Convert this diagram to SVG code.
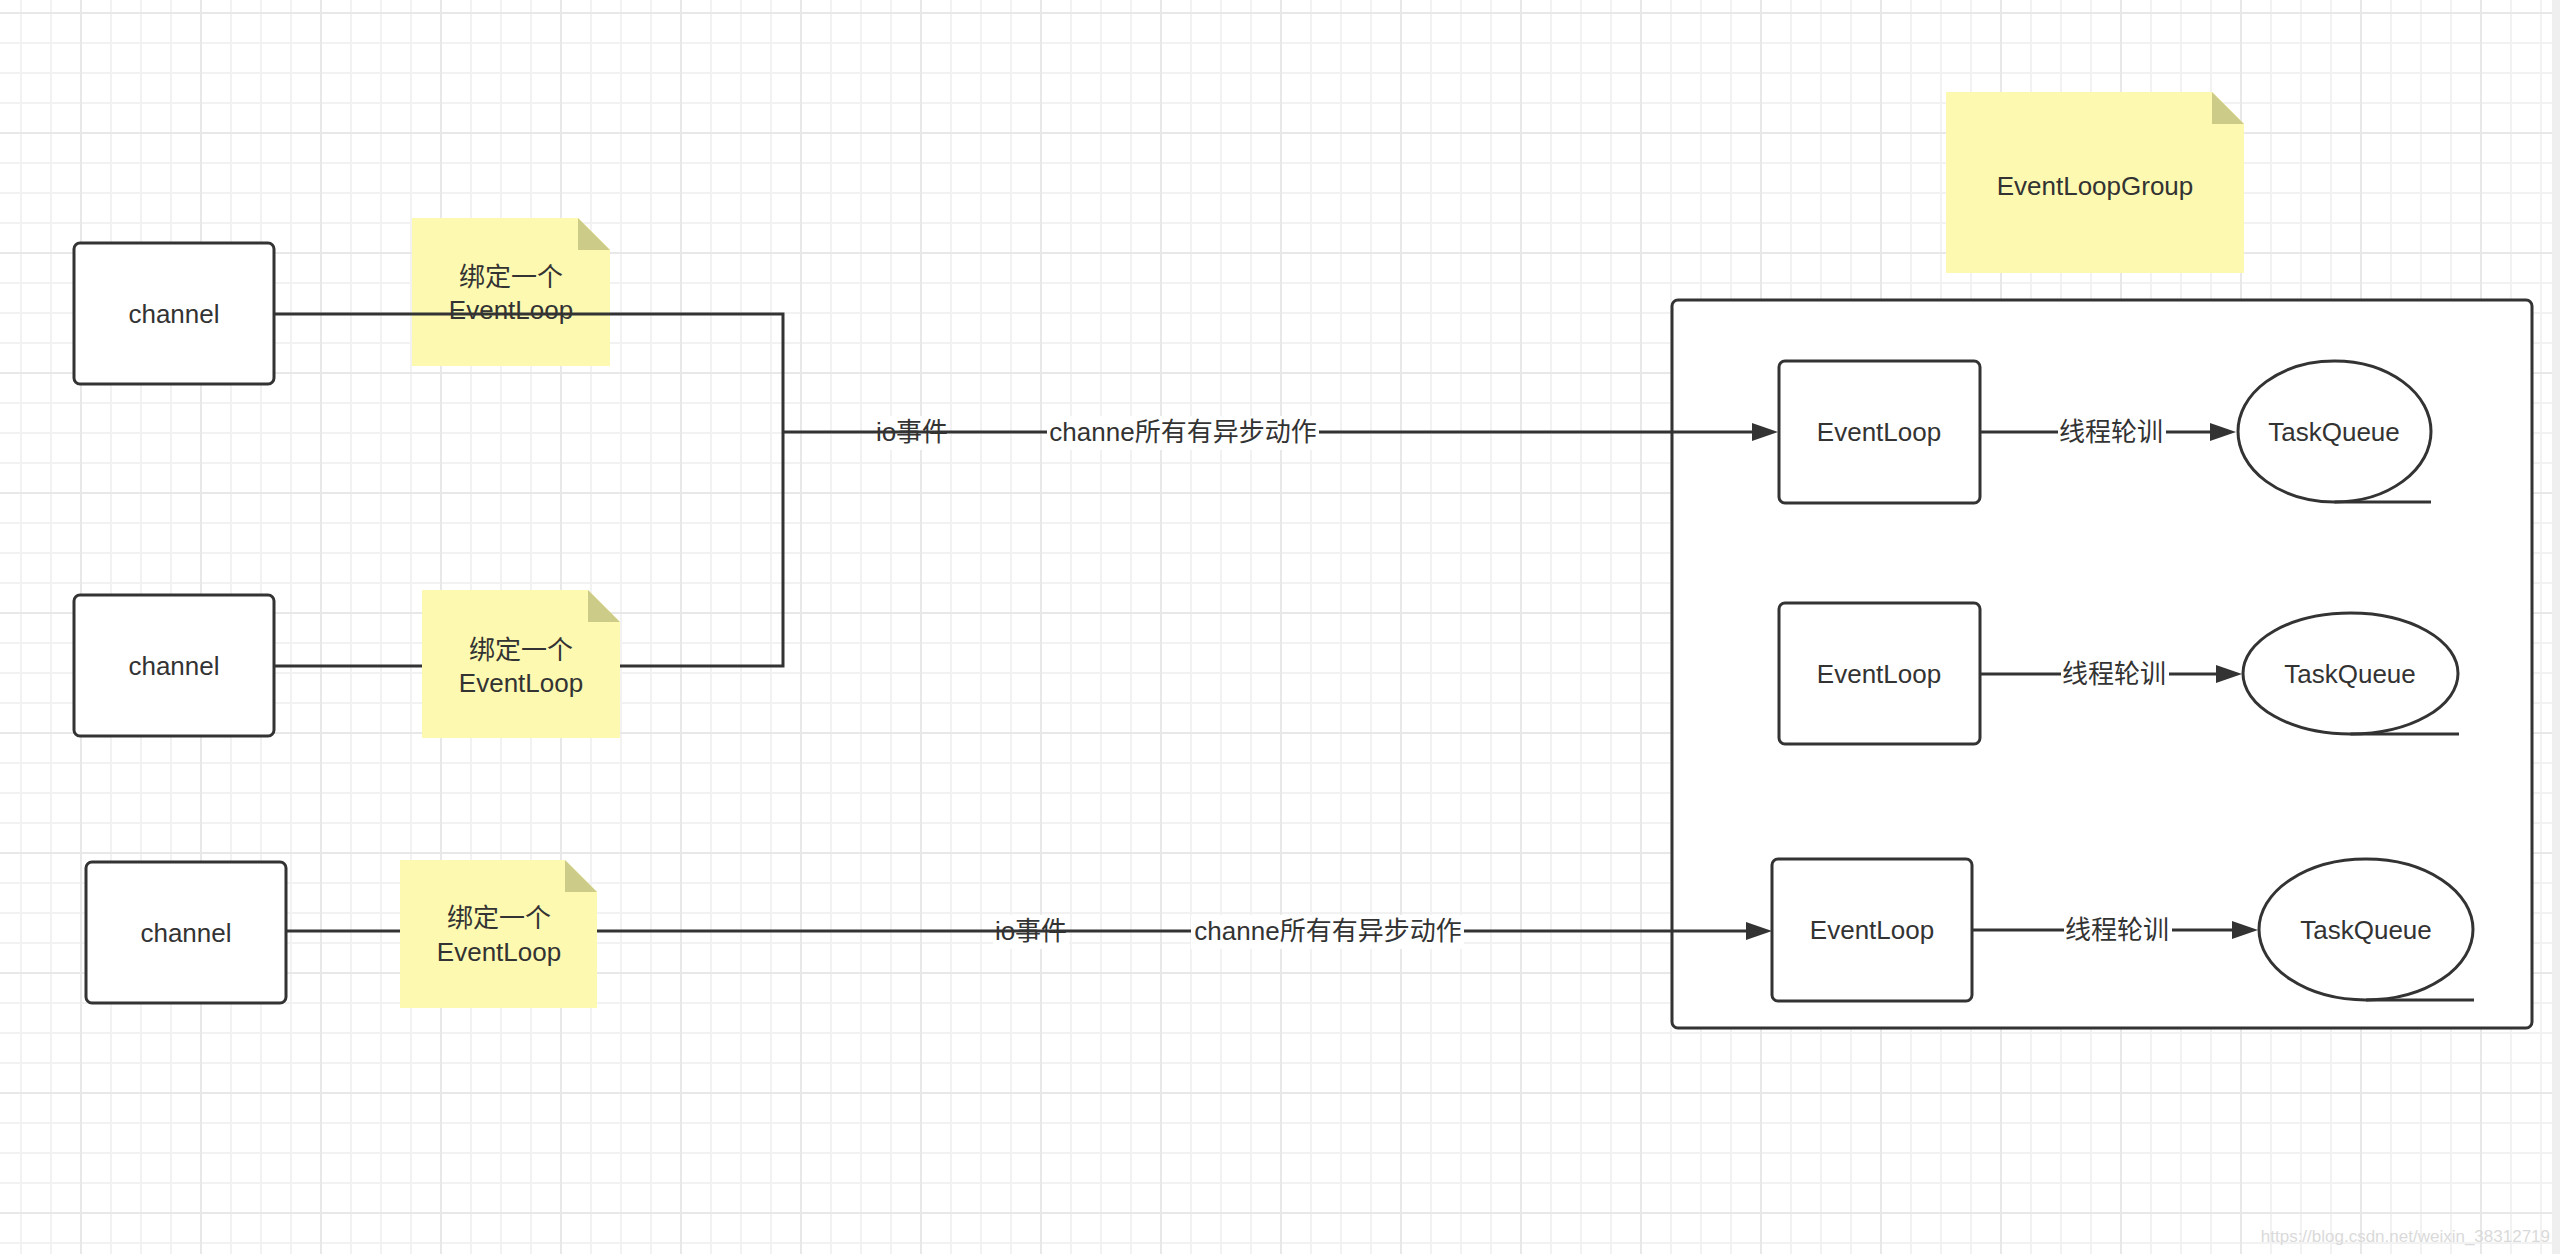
<svg xmlns="http://www.w3.org/2000/svg" width="2560" height="1254" viewBox="0 0 2560 1254">
  <defs>
    <pattern id="grid" patternUnits="userSpaceOnUse" x="80" y="12" width="120" height="120">
      <rect x="0" y="0" width="120" height="120" fill="#ffffff"/>
      <rect x="30" y="0" width="2" height="120" fill="#f2f2f2"/>
      <rect x="60" y="0" width="2" height="120" fill="#f2f2f2"/>
      <rect x="90" y="0" width="2" height="120" fill="#f2f2f2"/>
      <rect x="0" y="30" width="120" height="2" fill="#f2f2f2"/>
      <rect x="0" y="60" width="120" height="2" fill="#f2f2f2"/>
      <rect x="0" y="90" width="120" height="2" fill="#f2f2f2"/>
      <rect x="0" y="0" width="2" height="120" fill="#e8e8e8"/>
      <rect x="0" y="0" width="120" height="2" fill="#e8e8e8"/>
    </pattern>
    <marker id="arrow" markerUnits="userSpaceOnUse" viewBox="0 0 26 18" refX="0" refY="9" markerWidth="26" markerHeight="18" orient="auto">
      <path d="M0,0 L26,9 L0,18 z" fill="#333333"/>
    </marker>
  </defs>
  <style>
    .box { fill: #ffffff; stroke: #333333; stroke-width: 3; }
    .line { fill: none; stroke: #333333; stroke-width: 3; }
    .note { fill: #fdf9b0; }
    .fold { fill: #cccc88; }
    .t { font-family: "Liberation Sans", "Noto Sans CJK SC", sans-serif; font-size: 26px; fill: #333333; text-anchor: middle; }
    .lblbg { fill: #ffffff; }
    .wm { font-family: "Liberation Sans", sans-serif; font-size: 17px; fill: #dadada; text-anchor: end; }
  </style>

  <rect x="0" y="0" width="2552" height="1254" fill="url(#grid)"/>
  <rect x="2552" y="0" width="8" height="1254" fill="#efefef"/>

  <g id="channel1">
    <rect class="box" x="74" y="243" width="200" height="141" rx="6"/>
    <text class="t" x="174" y="323">channel</text>
  </g>
  <g id="channel2">
    <rect class="box" x="74" y="595" width="200" height="141" rx="6"/>
    <text class="t" x="174" y="675">channel</text>
  </g>
  <g id="channel3">
    <rect class="box" x="86" y="862" width="200" height="141" rx="6"/>
    <text class="t" x="186" y="942">channel</text>
  </g>

  <g id="note1">
    <path class="note" d="M412,218 H578 L610,250 V366 H412 z"/>
    <path class="fold" d="M578,218 L610,250 H578 z"/>
    <text class="t" x="511" y="286">绑定一个</text>
    <text class="t" x="511" y="319">EventLoop</text>
  </g>
  <g id="note2">
    <path class="note" d="M422,590 H588 L620,622 V738 H422 z"/>
    <path class="fold" d="M588,590 L620,622 H588 z"/>
    <text class="t" x="521" y="659">绑定一个</text>
    <text class="t" x="521" y="692">EventLoop</text>
  </g>
  <g id="note3">
    <path class="note" d="M400,860 H565 L597,892 V1008 H400 z"/>
    <path class="fold" d="M565,860 L597,892 H565 z"/>
    <text class="t" x="499" y="927">绑定一个</text>
    <text class="t" x="499" y="961">EventLoop</text>
  </g>

  <g id="eventLoopGroupNote">
    <path class="note" d="M1946,92 H2212 L2244,124 V273 H1946 z"/>
    <path class="fold" d="M2212,92 L2244,124 H2212 z"/>
    <text class="t" x="2095" y="195">EventLoopGroup</text>
  </g>

  <g id="eventLoopGroup">
    <rect class="box" x="1672" y="300" width="860" height="728" rx="6"/>
  </g>

  <g id="eventLoop1">
    <rect class="box" x="1779" y="361" width="201" height="142" rx="6"/>
    <text class="t" x="1879" y="441">EventLoop</text>
  </g>
  <g id="eventLoop2">
    <rect class="box" x="1779" y="603" width="201" height="141" rx="6"/>
    <text class="t" x="1879" y="683">EventLoop</text>
  </g>
  <g id="eventLoop3">
    <rect class="box" x="1772" y="859" width="200" height="142" rx="6"/>
    <text class="t" x="1872" y="939">EventLoop</text>
  </g>

  <g id="taskQueue1">
    <ellipse class="box" cx="2334.5" cy="431.5" rx="96.5" ry="70.5"/>
    <path class="line" d="M2334.5,502 H2431"/>
    <text class="t" x="2334" y="441">TaskQueue</text>
  </g>
  <g id="taskQueue2">
    <ellipse class="box" cx="2350.5" cy="673.5" rx="107.5" ry="60.5"/>
    <path class="line" d="M2350.5,734 H2459"/>
    <text class="t" x="2350" y="683">TaskQueue</text>
  </g>
  <g id="taskQueue3">
    <ellipse class="box" cx="2366" cy="929.5" rx="107" ry="70.5"/>
    <path class="line" d="M2366,1000 H2474"/>
    <text class="t" x="2366" y="939">TaskQueue</text>
  </g>

  <g id="connectors">
    <rect class="lblbg" x="874" y="416" width="76" height="34"/>
    <text class="t" x="912" y="441">io事件</text>
    <rect class="lblbg" x="993" y="915" width="76" height="34"/>
    <text class="t" x="1031" y="940">io事件</text>

    <path class="line" d="M274,314 H783 V666 H620"/>
    <path class="line" d="M274,666 H422"/>
    <path class="line" d="M783,432 H1752" marker-end="url(#arrow)"/>
    <path class="line" d="M286,931 H400"/>
    <path class="line" d="M597,931 H1746" marker-end="url(#arrow)"/>

    <rect class="lblbg" x="1047" y="416" width="272" height="34"/>
    <text class="t" x="1183" y="441">channe所有有异步动作</text>
    <rect class="lblbg" x="1191" y="915" width="273" height="34"/>
    <text class="t" x="1328" y="940">channe所有有异步动作</text>

    <path class="line" d="M1980,432 H2210" marker-end="url(#arrow)"/>
    <path class="line" d="M1980,674 H2216" marker-end="url(#arrow)"/>
    <path class="line" d="M1972,930 H2232" marker-end="url(#arrow)"/>

    <rect class="lblbg" x="2058" y="416" width="108" height="34"/>
    <text class="t" x="2111" y="441">线程轮训</text>
    <rect class="lblbg" x="2061" y="658" width="108" height="34"/>
    <text class="t" x="2114" y="683">线程轮训</text>
    <rect class="lblbg" x="2064" y="914" width="108" height="34"/>
    <text class="t" x="2117" y="939">线程轮训</text>
  </g>

  <text class="wm" x="2550" y="1242">https://blog.csdn.net/weixin_38312719</text>
</svg>
